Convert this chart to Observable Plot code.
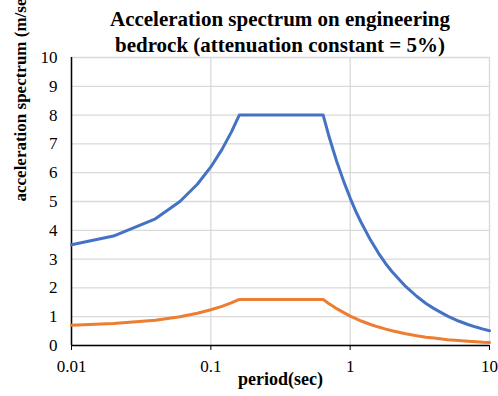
<!DOCTYPE html>
<html>
<head>
<meta charset="utf-8">
<script src="https://cdn.jsdelivr.net/npm/d3@7"></script>
<script src="https://cdn.jsdelivr.net/npm/@observablehq/plot@0.6"></script>
</head>
<body style="margin:0;background:#fff;font-family:'Liberation Serif'">
<div style="position:relative;width:498px;height:396px;">
<div id="title" style="position:absolute;left:71px;width:418px;top:6px;text-align:center;font-family:'Liberation Serif';font-weight:bold;font-size:21px;line-height:26px;color:#000;z-index:2;"></div>
<div id="chart"></div>
</div>
<script>
const periods = [0.01,0.02,0.04,0.06,0.08,0.1,0.12,0.14,0.16,0.64,0.7,0.75,0.8,0.9,1,1.1,1.2,1.4,1.6,1.8,2,2.5,3,3.5,4,5,6,7,8,9,10];
const blueSeries = [3.5,3.8,4.4,5.0,5.6,6.2,6.8,7.4,8.0,8.0,7.31,6.83,6.4,5.69,5.12,4.65,4.27,3.66,3.2,2.84,2.56,2.05,1.71,1.46,1.28,1.02,0.85,0.73,0.64,0.57,0.51];
const orangeSeries = [0.7,0.76,0.88,1.0,1.12,1.24,1.36,1.48,1.6,1.6,1.46,1.37,1.28,1.14,1.02,0.93,0.85,0.73,0.64,0.57,0.51,0.41,0.34,0.29,0.26,0.2,0.17,0.15,0.13,0.11,0.1];
const xTicks = [0.01,0.1,1,10];
const xTickLabels = ["0.01","0.1","1","10"];
const yTicks = [0,1,2,3,4,5,6,7,8,9,10];
const titleLines = ["Acceleration spectrum on engineering","bedrock (attenuation constant = 5%)"];

document.getElementById("title").innerHTML = titleLines.join("<br>");

const blue = periods.map((p,i)=>({p, v: blueSeries[i]}));
const orange = periods.map((p,i)=>({p, v: orangeSeries[i]}));
const F = "Liberation Serif";

const chart = Plot.plot({
  width: 498, height: 396,
  marginLeft: 71, marginRight: 9, marginTop: 57, marginBottom: 51,
  style: {fontFamily: F},
  x: {type: "log", domain: [0.01, 10], label: null},
  y: {domain: [0, 10], label: null},
  marks: [
    Plot.gridY(yTicks, {stroke: "#d9d9d9", strokeOpacity: 1, strokeWidth: 1.3}),
    Plot.gridX(xTicks, {stroke: "#d9d9d9", strokeOpacity: 1, strokeWidth: 1.3}),
    Plot.axisY(yTicks, {tickSize: 0, tickPadding: 14, fontSize: 17, fontFamily: F, textAnchor: "end"}),
    Plot.axisX(xTicks, {tickSize: 5, tickPadding: 9, fontSize: 17, fontFamily: F, tickFormat: d=>xTickLabels[xTicks.indexOf(d)], stroke:"#000"}),
    Plot.ruleX([0.01], {stroke: "#000", strokeWidth: 1.5}),
    Plot.ruleY([0], {stroke: "#000", strokeWidth: 1.5}),
    Plot.line(blue, {x: "p", y: "v", stroke: "#4472C4", strokeWidth: 3}),
    Plot.line(orange, {x: "p", y: "v", stroke: "#ED7D31", strokeWidth: 3}),
    Plot.text(["period(sec)"], {frameAnchor: "bottom", dy: 39, fontSize: 18, fontWeight: "bold", fontFamily: F, text: d=>d}),
    Plot.text(["acceleration spectrum (m/sec²)"], {frameAnchor: "left", dx: -51, rotate: -90, fontSize: 17, fontWeight: "bold", fontFamily: F, text: d=>d})
  ]
});
document.getElementById("chart").appendChild(chart);
</script>
</body>
</html>
